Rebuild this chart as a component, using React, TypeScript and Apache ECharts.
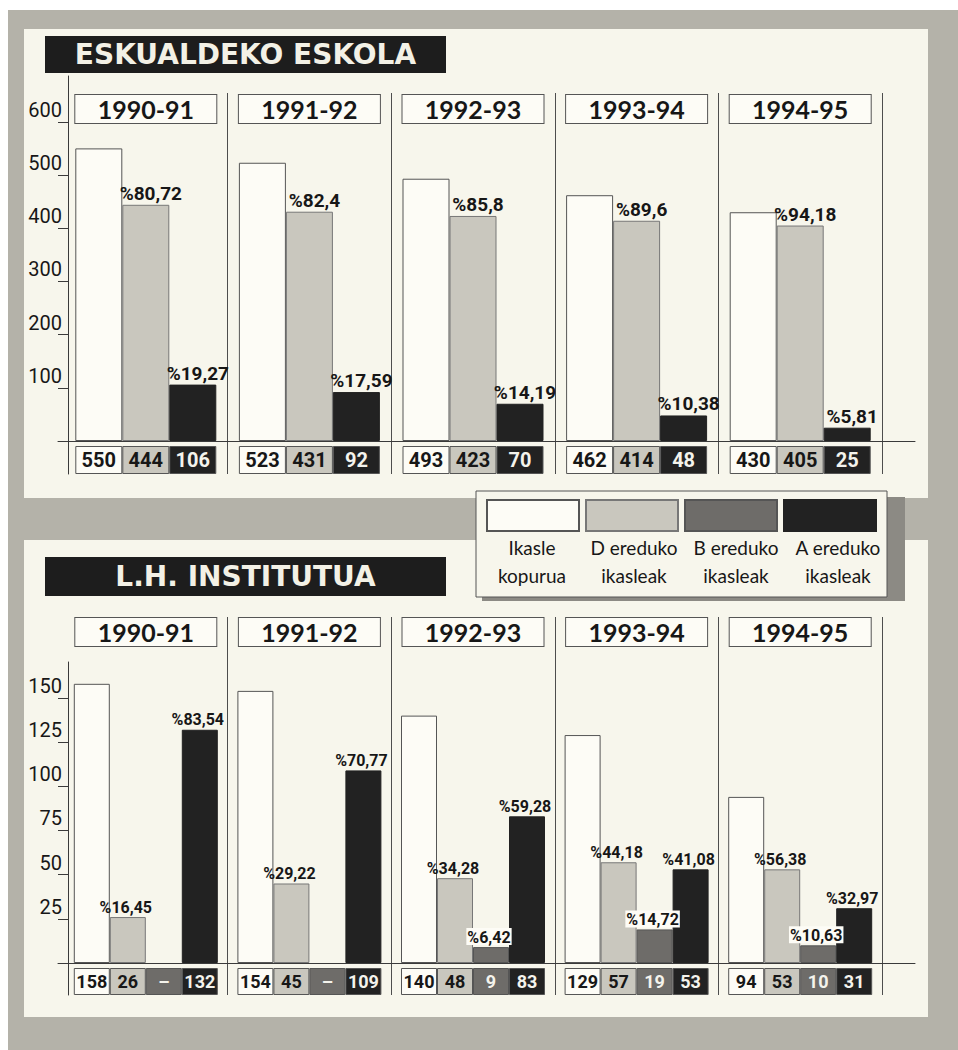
import React, { useEffect, useRef } from "react";
import * as echarts from "echarts";

// ---------- data ----------
const years = ["1990-91", "1991-92", "1992-93", "1993-94", "1994-95"];
const seriesNames = ["Ikasle kopurua", "D ereduko ikasleak", "B ereduko ikasleak", "A ereduko ikasleak"];
const legendCaptions = ["Ikasle\nkopurua", "D ereduko\nikasleak", "B ereduko\nikasleak", "A ereduko\nikasleak"];

// ESKUALDEKO ESKOLA
const eskTitle = "ESKUALDEKO ESKOLA";
const eskTotal = [550, 523, 493, 462, 430];
const eskD = [444, 431, 423, 414, 405];
const eskA = [106, 92, 70, 48, 25];
const eskDPct = ["%80,72", "%82,4", "%85,8", "%89,6", "%94,18"];
const eskAPct = ["%19,27", "%17,59", "%14,19", "%10,38", "%5,81"];
const eskTicks = [100, 200, 300, 400, 500, 600];

// L.H. INSTITUTUA
const lhTitle = "L.H. INSTITUTUA";
const lhTotal = [158, 154, 140, 129, 94];
const lhD = [26, 45, 48, 57, 53];
const lhB: (number | null)[] = [null, null, 9, 19, 10];
const lhA = [132, 109, 83, 53, 31];
const lhDPct = ["%16,45", "%29,22", "%34,28", "%44,18", "%56,38"];
const lhBPct = ["", "", "%6,42", "%14,72", "%10,63"];
const lhAPct = ["%83,54", "%70,77", "%59,28", "%41,08", "%32,97"];
const lhTicks = [25, 50, 75, 100, 125, 150];

// ---------- styles ----------
const C = {
  frame: "#b4b2a9",
  cream: "#f7f6ec",
  white: "#fdfcf6",
  light: "#c9c7be",
  dark: "#6e6c69",
  black: "#222222",
  line: "#4d4d4d",
  ink: "#171717",
  shadow: "#8c8a84",
};
const NARROW = "Roboto, 'Liberation Sans', sans-serif";
const HUMAN = "Lato, 'Open Sans', sans-serif";
const HEAVY = "'DejaVu Sans', 'Liberation Sans', sans-serif";

const PLOT = { left: 64, width: 818 };
const AXIS = { left: 58, width: 857, yOffset: -10 };

const TOPG = { barsTop: 93, axisTop: 76, bottom: 474, zeroY: 441, pxPerUnit: 0.532, gap: 5, box: 28, barWidth: 47, pctSize: 19, countSize: 20, pctOffset: [5, 0], yearOffset: 30 };
const BOTG = { barsTop: 617, axisTop: 662, bottom: 995, zeroY: 963, pxPerUnit: 1.767, gap: 5, box: 27, barWidth: 36, pctSize: 16, countSize: 18, pctOffset: [-2, 0], yearOffset: 29 };

type Bar = { name: string; values: (number | null)[]; pct?: string[]; fill: string; stroke: string; ink: string; pctBg?: string };

const eskBars: Bar[] = [
  { name: seriesNames[0], values: eskTotal, fill: C.white, stroke: "#555", ink: C.ink },
  { name: seriesNames[1], values: eskD, pct: eskDPct, fill: C.light, stroke: "#777", ink: C.ink },
  { name: seriesNames[3], values: eskA, pct: eskAPct, fill: C.black, stroke: C.black, ink: "#f4f3ec" },
];
const lhBars: Bar[] = [
  { name: seriesNames[0], values: lhTotal, fill: C.white, stroke: "#555", ink: C.ink },
  { name: seriesNames[1], values: lhD, pct: lhDPct, fill: C.light, stroke: "#777", ink: C.ink },
  { name: seriesNames[2], values: lhB, pct: lhBPct, fill: C.dark, stroke: "#555", ink: "#f4f3ec", pctBg: C.white },
  { name: seriesNames[3], values: lhA, pct: lhAPct, fill: C.black, stroke: C.black, ink: "#f4f3ec" },
];

function seriesFor(axis: number, g: any, bars: Bar[]) {
  const gapUnits = g.gap / g.pxPerUnit;
  const boxUnits = g.box / g.pxPerUnit;
  const common = {
    type: "bar",
    xAxisIndex: axis,
    yAxisIndex: axis,
    barWidth: g.barWidth,
    barGap: "0%",
    silent: true,
    emphasis: { disabled: true },
  };
  const main = bars.map((b, i) => ({
    ...common,
    name: b.name,
    stack: `s${axis}_${i}`,
    z: 3,
    data: b.values.map((v) => (v == null ? "-" : v)),
    itemStyle: { color: b.fill, borderColor: b.stroke, borderWidth: 1 },
    label: b.pct
      ? {
          show: true,
          position: "top",
          distance: 2,
          offset: g.pctOffset,
          formatter: (p: any) => b.pct![p.dataIndex],
          fontFamily: NARROW,
          fontWeight: "bold",
          fontSize: g.pctSize,
          color: C.ink,
          backgroundColor: b.pctBg || "transparent",
          padding: b.pctBg ? [1, 1, 0, 1] : 0,
        }
      : { show: false },
  }));
  const spacers = bars.map((b, i) => ({
    ...common,
    name: `gap${axis}_${i}`,
    stack: `s${axis}_${i}`,
    data: years.map(() => -gapUnits),
    itemStyle: { color: "rgba(0,0,0,0)" },
    label: { show: false },
  }));
  const boxes = bars.map((b, i) => ({
    ...common,
    name: `count${axis}_${i}`,
    stack: `s${axis}_${i}`,
    data: years.map(() => -boxUnits),
    itemStyle: { color: b.fill, borderColor: "#555", borderWidth: 1 },
    label: {
      show: true,
      position: "inside",
      formatter: (p: any) => {
        const v = b.values[p.dataIndex];
        return v == null ? "–" : String(v);
      },
      fontFamily: NARROW,
      fontWeight: "bold",
      fontSize: g.countSize,
      color: b.ink,
    },
  }));
  return [...main, ...spacers, ...boxes];
}

function yearAxis(gridIndex: number, g: any) {
  return {
    type: "category",
    gridIndex,
    data: years,
    position: "top",
    offset: -g.yearOffset,
    axisLine: { show: false, onZero: false },
    axisTick: { show: false },
    axisLabel: {
      interval: 0,
      margin: 0,
      color: C.ink,
      fontFamily: HUMAN,
      fontWeight: "bold",
      fontSize: 25,
      width: 141,
      height: 28,
      lineHeight: 28,
      align: "center",
      backgroundColor: C.white,
      borderColor: "#555",
      borderWidth: 1,
    },
    splitLine: { show: true, interval: (i: number) => i !== 0, lineStyle: { color: C.line, width: 1 } },
  };
}

function valueAxisAxis(gridIndex: number, g: any, ticks: number[]) {
  return {
    type: "value",
    gridIndex,
    min: -(g.bottom - g.zeroY) / g.pxPerUnit,
    max: (g.zeroY - g.axisTop) / g.pxPerUnit,
    offset: AXIS.yOffset,
    axisLine: { show: true, onZero: false, lineStyle: { color: "#3a3a3a", width: 1 } },
    axisTick: { show: true, length: 10, customValues: ticks, lineStyle: { color: "#3a3a3a", width: 1 } },
    axisLabel: {
      customValues: ticks,
      margin: 6,
      fontFamily: NARROW,
      fontSize: 20,
      color: C.ink,
      verticalAlign: "bottom",
      padding: [0, 0, 2, 0],
    },
    splitLine: { show: false },
  };
}

function buildOption(): any {
  const capX = [532, 634, 736, 838];
  const titleRich = { width: 381, height: 29, lineHeight: 29, align: "center", color: "#f3f1e6", fontFamily: HEAVY, fontWeight: "bold", fontSize: 28 };
  return {
    animation: false,
    title: [
      {
        text: `{t|${eskTitle}}`,
        left: 45,
        top: 36,
        padding: [4, 10, 4, 10],
        backgroundColor: "#1d1d1d",
        textStyle: { rich: { t: titleRich } },
      },
      {
        text: `{t|${lhTitle}}`,
        left: 45,
        top: 557,
        padding: [5, 10, 5, 10],
        backgroundColor: "#1d1d1d",
        textStyle: { rich: { t: titleRich } },
      },
    ],
    legend: {
      data: seriesNames,
      left: 476,
      top: 491,
      orient: "horizontal",
      icon: "rect",
      itemWidth: 92,
      itemHeight: 31,
      itemGap: 5,
      padding: [8, 10, 65, 10],
      backgroundColor: C.cream,
      borderColor: "#555",
      borderWidth: 1,
      selectedMode: false,
      formatter: () => "",
      z: 6,
    },
    graphic: [
      { type: "rect", z: -10, silent: true, shape: { x: 8, y: 10, width: 950, height: 1040 }, style: { fill: C.frame } },
      { type: "rect", z: -9, silent: true, shape: { x: 24, y: 29, width: 904, height: 469 }, style: { fill: C.cream } },
      { type: "rect", z: -9, silent: true, shape: { x: 24, y: 540, width: 904, height: 477 }, style: { fill: C.cream } },
      { type: "rect", z: 5, silent: true, shape: { x: 482, y: 497, width: 423, height: 104 }, style: { fill: C.shadow } },
      ...legendCaptions.map((t, i) => ({
        type: "text",
        z: 10,
        silent: true,
        x: capX[i],
        y: 533,
        style: { text: t, align: "center", verticalAlign: "top", fontFamily: HUMAN, fontSize: 19, lineHeight: 28, fill: C.ink },
      })),
    ],
    grid: [
      { left: PLOT.left, width: PLOT.width, top: TOPG.barsTop, height: TOPG.bottom - TOPG.barsTop },
      { left: PLOT.left, width: PLOT.width, top: BOTG.barsTop, height: BOTG.bottom - BOTG.barsTop },
      { left: AXIS.left, width: AXIS.width, top: TOPG.axisTop, height: TOPG.bottom - TOPG.axisTop },
      { left: AXIS.left, width: AXIS.width, top: BOTG.axisTop, height: BOTG.bottom - BOTG.axisTop },
    ],
    xAxis: [
      yearAxis(0, TOPG),
      yearAxis(1, BOTG),
      { type: "category", gridIndex: 2, data: [""], axisLine: { show: true, onZero: true, lineStyle: { color: "#3a3a3a", width: 1 } }, axisTick: { show: false }, axisLabel: { show: false }, splitLine: { show: false } },
      { type: "category", gridIndex: 3, data: [""], axisLine: { show: true, onZero: true, lineStyle: { color: "#3a3a3a", width: 1 } }, axisTick: { show: false }, axisLabel: { show: false }, splitLine: { show: false } },
    ],
    yAxis: [
      { type: "value", gridIndex: 0, show: false, min: -(TOPG.bottom - TOPG.zeroY) / TOPG.pxPerUnit, max: (TOPG.zeroY - TOPG.barsTop) / TOPG.pxPerUnit, splitLine: { show: false } },
      { type: "value", gridIndex: 1, show: false, min: -(BOTG.bottom - BOTG.zeroY) / BOTG.pxPerUnit, max: (BOTG.zeroY - BOTG.barsTop) / BOTG.pxPerUnit, splitLine: { show: false } },
      valueAxisAxis(2, TOPG, eskTicks),
      valueAxisAxis(3, BOTG, lhTicks),
    ],
    series: [...seriesFor(0, TOPG, eskBars), ...seriesFor(1, BOTG, lhBars)],
  };
}

export default function App() {
  const ref = useRef<HTMLDivElement>(null);
  useEffect(() => {
    document.body.style.margin = "0";
    const chart = echarts.init(ref.current!, undefined, { renderer: "svg" });
    chart.setOption(buildOption());
    return () => chart.dispose();
  }, []);
  return <div ref={ref} style={{ width: 958, height: 1050, background: "#ffffff" }} />;
}
